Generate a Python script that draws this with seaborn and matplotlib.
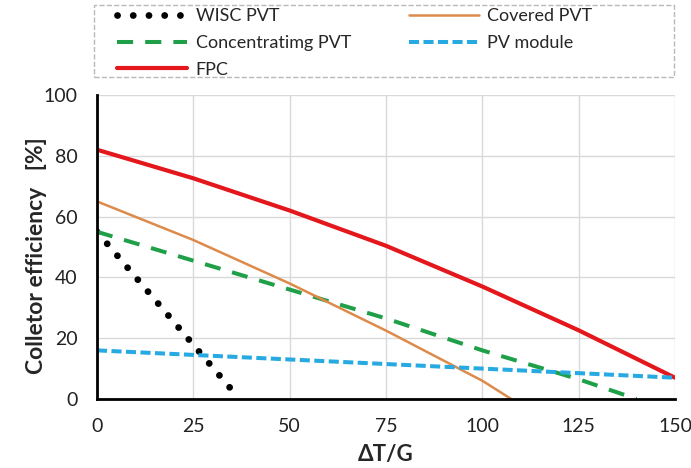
import matplotlib
matplotlib.use("Agg")
import matplotlib.pyplot as plt
from matplotlib.patches import Rectangle
import seaborn as sns
import pandas as pd

# Efficiency curves vs reduced temperature difference
wisc_x = [0, 37]
wisc_y = [55, 0]

covered_x = [0, 25, 50, 75, 100, 107.5]
covered_y = [65, 52.3, 38, 22.5, 6, 0]

conc_x = [0, 25, 50, 75, 100, 125, 140]
conc_y = [55, 45.5, 36, 26.5, 16, 6.5, 0]

pv_x = [0, 50, 100, 150]
pv_y = [16, 13, 10, 7]

fpc_x = [0, 25, 50, 75, 100, 125, 150]
fpc_y = [82, 72.6, 62, 50.4, 37, 22.6, 7]

x_ticks = [0, 25, 50, 75, 100, 125, 150]
y_ticks = [0, 20, 40, 60, 80, 100]

sns.set_theme(style="whitegrid")
plt.rcParams["font.family"] = ["Lato", "DejaVu Sans"]

W, H = 691, 468
fig = plt.figure(figsize=(W / 100, H / 100), dpi=100)
ax = fig.add_axes([97 / W, 1 - 399 / H, 578 / W, 304 / H])

series = [
    ("WISC PVT", wisc_x, wisc_y, dict(color="black", linestyle=(0, (0.01, 2.3)), linewidth=4.9, dash_capstyle="round", solid_capstyle="round")),
    ("Concentratimg PVT", conc_x, conc_y, dict(color="#1fa048", linestyle=(0, (4.0, 3.0)), linewidth=2.9)),
    ("FPC", fpc_x, fpc_y, dict(color="#e3171c", linestyle="-", linewidth=3.0)),
    ("Covered PVT", covered_x, covered_y, dict(color="#dd8a4a", linestyle="-", linewidth=1.8)),
    ("PV module", pv_x, pv_y, dict(color="#27aae1", linestyle=(0, (2.5, 1.1)), linewidth=2.9)),
]

for name, xs, ys, style in series:
    df = pd.DataFrame({"x": xs, "y": ys})
    sns.lineplot(data=df, x="x", y="y", ax=ax, label=name, **style)

ax.set_xlim(0, 150)
ax.set_ylim(0, 100)
ax.set_xticks(x_ticks)
ax.set_yticks(y_ticks)
ax.grid(True, color="#d9d9d9", linewidth=1.0)
for side in ["top", "right"]:
    ax.spines[side].set_visible(False)
for side in ["left", "bottom"]:
    ax.spines[side].set_color("black")
    ax.spines[side].set_linewidth(2.0)
ax.tick_params(axis="both", which="major", labelsize=14, colors="#222222",
               direction="out", length=6, width=1.5)
ax.tick_params(axis="y", pad=8)
ax.tick_params(axis="x", pad=8)
ax.set_xlabel("ΔT/G", fontsize=16, fontweight="bold", labelpad=6)
ax.set_ylabel("Colletor efficiency   [%]", fontsize=16.5, fontweight="bold")
ax.yaxis.set_label_coords(-0.087, 0.47)

handles, labels = ax.get_legend_handles_labels()
ax.get_legend().remove()
leg = fig.legend(handles, labels, ncol=2, loc="upper left",
                 bbox_to_anchor=(117 / W, 1 - 8 / H),
                 fontsize=13, frameon=False,
                 handlelength=3.9, handletextpad=0.45, labelspacing=0.6,
                 borderaxespad=0.0, borderpad=0.0, columnspacing=3.2)

# dashed box around the legend
fig.patches.append(Rectangle((94 / W, 1 - 77 / H), 580 / W, 72 / H,
                             transform=fig.transFigure, fill=False,
                             edgecolor="#b8b8b8", linestyle="--", linewidth=1.0))

fig.savefig("out.png", dpi=100)
